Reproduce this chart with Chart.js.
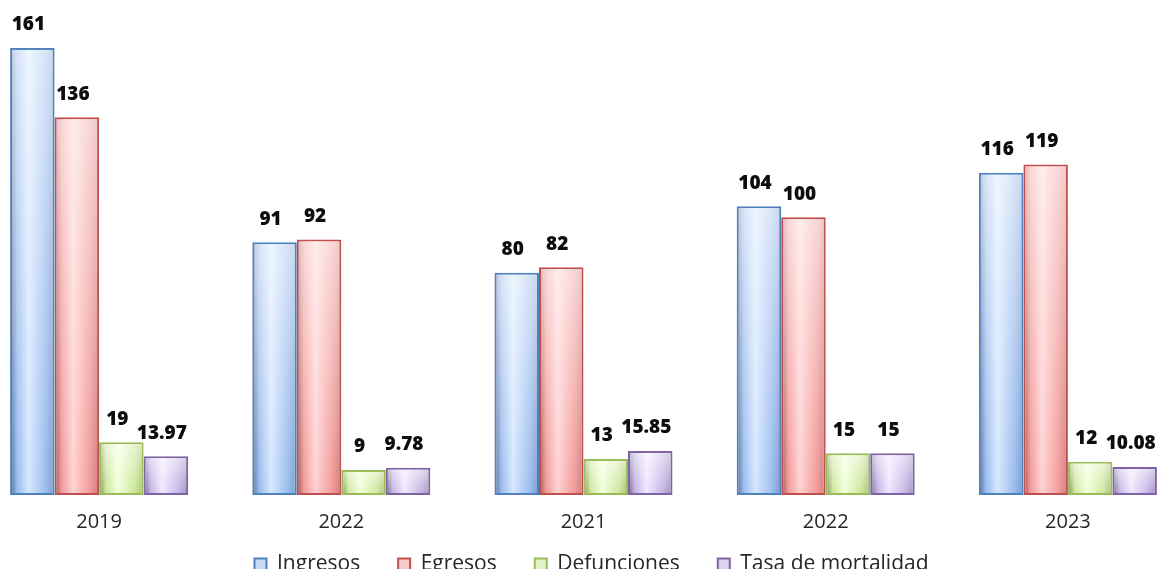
<!DOCTYPE html>
<html>
<head>
<meta charset="utf-8">
<script src="https://cdn.jsdelivr.net/npm/chart.js@4.4.0/dist/chart.umd.min.js"></script>
<style>
  html, body { margin: 0; padding: 0; background: #fff; overflow: hidden; width: 1158px; height: 569px; }
  #wrap { position: absolute; left: -22px; top: 0; width: 1211px; height: 618px; }
</style>
</head>
<body>
<div id="wrap"><canvas id="chart" width="1211" height="618"></canvas></div>
<script>
const years = ['2019', '2022', '2021', '2022', '2023'];
const ingresos = [161, 91, 80, 104, 116];
const egresos = [136, 92, 82, 100, 119];
const defunciones = [19, 9, 13, 15, 12];
const tasaMortalidad = [13.97, 9.78, 15.85, 15, 10.08];
const seriesNames = ['Ingresos', 'Egresos', 'Defunciones', 'Tasa de mortalidad'];

const FONT = "'Open Sans', 'DejaVu Sans', sans-serif";

// cylinder-like shading per series
const shades = [
  { border: '#4f81bd', edge: '#546d95', base: '#9bbcee', light: '#d6e8ff', dark: '#7b9aca', box: '#c8dbf6' },
  { border: '#c0504d', edge: '#985656', base: '#f29a98', light: '#ffd3d3', dark: '#c67e7e', box: '#f7cbca' },
  { border: '#9bbb59', edge: '#798b58', base: '#cae797', light: '#f2ffd8', dark: '#a1bb74', box: '#e3f3c8' },
  { border: '#8064a2', edge: '#6b6283', base: '#c1b0e3', light: '#efe7ff', dark: '#9a8dba', box: '#ddd3f0' },
];

const barShading = {
  id: 'barShading',
  beforeDatasetDraw(chart, args) {
    const ctx = chart.ctx;
    const s = shades[args.index];
    args.meta.data.forEach(bar => {
      const { x, width } = bar.getProps(['x', 'width'], true);
      const left = x - width / 2;
      const g = ctx.createLinearGradient(left, 0, left + width, 0);
      g.addColorStop(0, s.edge);
      g.addColorStop(0.16, s.base);
      g.addColorStop(0.42, s.light);
      g.addColorStop(0.8, s.base);
      g.addColorStop(1, s.dark);
      bar.options.backgroundColor = g;
    });
  },
  afterDatasetDraw(chart, args) {
    // paler towards the top of each bar
    const ctx = chart.ctx;
    args.meta.data.forEach(bar => {
      const { x, y, base, width } = bar.getProps(['x', 'y', 'base', 'width'], true);
      const g = ctx.createLinearGradient(0, y, 0, base);
      g.addColorStop(0, 'rgba(255,255,255,0.6)');
      g.addColorStop(1, 'rgba(255,255,255,0)');
      ctx.save();
      ctx.fillStyle = g;
      ctx.fillRect(x - width / 2 + 2, y + 2, width - 4, base - y - 4);
      ctx.restore();
    });
  }
};

const valueLabels = {
  id: 'valueLabels',
  afterDatasetsDraw(chart) {
    const ctx = chart.ctx;
    ctx.save();
    ctx.font = "800 19px " + FONT;
    ctx.fillStyle = '#0d0d0d';
    ctx.textAlign = 'center';
    ctx.textBaseline = 'middle';
    chart.data.datasets.forEach((ds, i) => {
      chart.getDatasetMeta(i).data.forEach((bar, j) => {
        ctx.fillText(String(ds.data[j]), bar.x - 4, bar.y - 23);
      });
    });
    ctx.restore();
  }
};

// nudge the legend row right and up
const legendShift = {
  id: 'legendShift',
  afterLayout(chart) {
    const lg = chart.legend;
    lg.left += 8;
    lg.right += 8;
    lg.top -= 33;
    lg.bottom -= 33;
  }
};

const seriesData = [ingresos, egresos, defunciones, tasaMortalidad];

const data = {
  labels: years,
  datasets: seriesNames.map((name, i) => ({
    label: name,
    data: seriesData[i],
    borderColor: shades[i].border,
    backgroundColor: (c) => shades[c.datasetIndex].box,
  })),
};

const config = {
  type: 'bar',
  data: data,
  options: {
    responsive: false,
    animation: false,
    layout: {
      padding: { top: 9, bottom: 0, left: 0, right: 0 },
    },
    datasets: {
      bar: {
        categoryPercentage: 0.735,
        barPercentage: 1,
        borderWidth: 2,
        borderSkipped: false,
      },
    },
    scales: {
      x: {
        grid: { display: false, drawTicks: false },
        border: { display: false },
        ticks: { padding: 15, color: '#262626', font: { family: FONT, size: 20 } },
      },
      y: { display: false, min: 0, max: 175 },
    },
    plugins: {
      legend: {
        position: 'bottom',
        labels: {
          boxWidth: 12,
          boxHeight: 12,
          padding: 38,
          color: '#262626',
          font: { family: FONT, size: 21 },
        },
      },
      tooltip: { enabled: false },
    },
  },
  plugins: [barShading, valueLabels, legendShift],
};

const myChart = new Chart(document.getElementById('chart'), config);
</script>
</body>
</html>
